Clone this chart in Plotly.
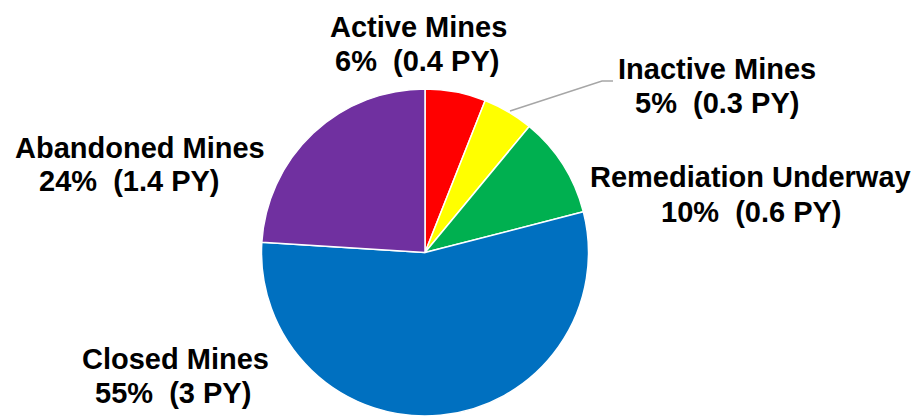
import plotly.graph_objects as go

categories = ["Active Mines", "Inactive Mines", "Remediation Underway", "Closed Mines", "Abandoned Mines"]
percents = [6, 5, 10, 55, 24]
person_years = ["0.4", "0.3", "0.6", "3", "1.4"]
colors = ["#FF0000", "#FFFF00", "#00B050", "#0070C0", "#7030A0"]

W, H = 916, 416

def px(x):
    return x / W

def py(y):
    return (H - y) / H

fig = go.Figure()
cx, cy, r = 425, 253, 164
fig.add_trace(go.Pie(
    labels=categories,
    values=percents,
    sort=False,
    direction="clockwise",
    rotation=0,
    marker=dict(colors=colors, line=dict(color="white", width=1.5)),
    textinfo="none",
    hoverinfo="label+percent",
    domain=dict(x=[px(cx - r), px(cx + r)], y=[max(0, py(cy + r)), min(1, py(cy - r))]),
    showlegend=False,
))

# label line positions (pixel centres): (name line), (value line)
label_pos = {
    "Active Mines": ((418, 26), (416.5, 60)),
    "Inactive Mines": ((717, 68), (717, 102)),
    "Remediation Underway": ((750, 176), (751, 211)),
    "Closed Mines": ((175, 358), (172.5, 392)),
    "Abandoned Mines": ((140, 147), (129, 180)),
}
font = dict(family="Liberation Sans, Arial, sans-serif", size=29, color="black")
for cat, pct, pyv in zip(categories, percents, person_years):
    (x1, y1), (x2, y2) = label_pos[cat]
    for (x, y), txt in (((x1, y1), cat), ((x2, y2), f"{pct}%\u00a0 ({pyv} PY)")):
        fig.add_annotation(
            x=px(x), y=py(y + 1), xref="paper", yref="paper",
            text=f"<b>{txt}</b>",
            showarrow=False, xanchor="center", yanchor="middle", align="center",
            font=font,
        )

# leader line for Inactive Mines
fig.add_shape(
    type="path", xref="paper", yref="paper",
    path=f"M {px(510)} {py(111)} L {px(602)} {py(81)} L {px(613)} {py(81)}",
    line=dict(color="#A6A6A6", width=1.5),
)

fig.update_layout(
    width=W, height=H,
    margin=dict(l=0, r=0, t=0, b=0),
    paper_bgcolor="white",
    plot_bgcolor="white",
)

fig.write_html(
    "out.html",
    config={"displayModeBar": False},
    post_script="document.body.style.margin='0';document.body.style.overflow='hidden';",
)
